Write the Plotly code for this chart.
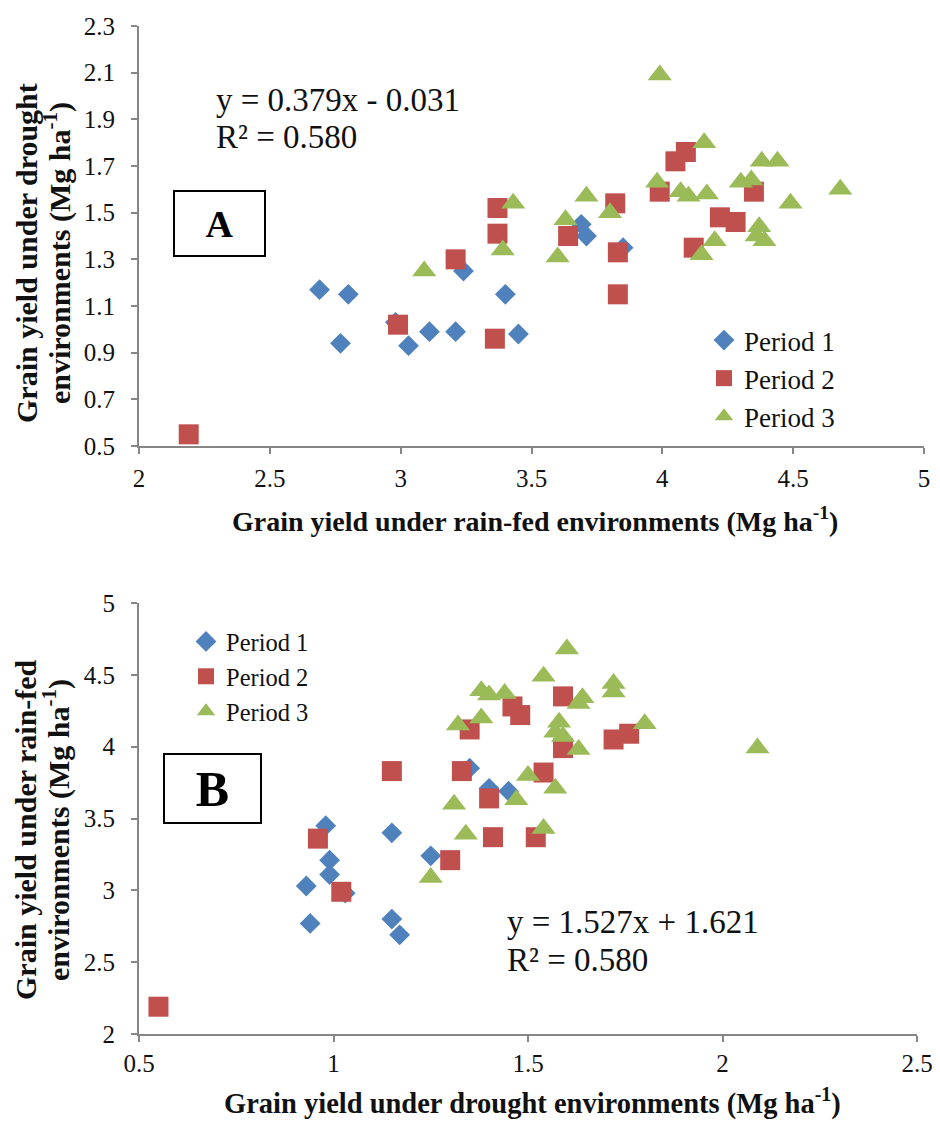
import plotly.graph_objects as go

# ---------------- data (Mg ha-1) ----------------
p1_rainfed = [2.69, 2.80, 2.77, 2.98, 3.03, 3.11, 3.21, 3.24, 3.40, 3.45, 3.69, 3.71, 3.85]
p1_drought = [1.17, 1.15, 0.94, 1.03, 0.93, 0.99, 0.99, 1.25, 1.15, 0.98, 1.45, 1.40, 1.35]

p2_rainfed = [2.19, 2.99, 3.21, 3.36, 3.37, 3.37, 3.64, 3.82, 3.83, 3.83, 3.99, 4.05, 4.09,
              4.12, 4.22, 4.28, 4.35]
p2_drought = [0.55, 1.02, 1.30, 0.96, 1.41, 1.52, 1.40, 1.54, 1.33, 1.15, 1.59, 1.72, 1.76,
              1.35, 1.48, 1.46, 1.59]

p3_rainfed = [3.09, 3.43, 3.39, 3.60, 3.63, 3.71, 3.80, 3.99, 3.98, 4.07, 4.10, 4.16, 4.17,
              4.20, 4.15, 4.30, 4.34, 4.38, 4.44, 4.37, 4.36, 4.39, 4.49, 4.68]
p3_drought = [1.25, 1.54, 1.34, 1.31, 1.47, 1.57, 1.50, 2.09, 1.63, 1.59, 1.57, 1.80, 1.58,
              1.38, 1.32, 1.63, 1.64, 1.72, 1.72, 1.44, 1.40, 1.38, 1.54, 1.60]

series_names = ["Period 1", "Period 2", "Period 3"]
eq_a = ["y = 0.379x - 0.031", "R² = 0.580"]
eq_b = ["y = 1.527x + 1.621", "R² = 0.580"]
title_rain = "Grain yield under rain-fed environments (Mg ha<sup>-1</sup>)"
title_drought = "Grain yield under drought environments (Mg ha<sup>-1</sup>)"
ytitle_a = ["Grain yield under drought", "environments (Mg ha<sup>-1</sup>)"]
ytitle_b = ["Grain yield under rain-fed", "environments (Mg ha<sup>-1</sup>)"]

# ---------------- style ----------------
# the page body adds an 8 px margin, so the figure is 8 px smaller each way
OFF = 8
W, H = 940 - OFF, 1128 - OFF
FONT = "Liberation Serif, Times New Roman, serif"
colors = ["#4F81BD", "#C0504D", "#9BBB59"]
symbols = ["diamond", "square", "triangle-up"]
sizes = [16, 20, 21]
AXC = "#868686"


def px(x):
    return (x - OFF) / W


def py(y):
    return 1 - (y - OFF) / H


series = [(p1_rainfed, p1_drought), (p2_rainfed, p2_drought), (p3_rainfed, p3_drought)]

fig = go.Figure()
for i, (rf, dr) in enumerate(series):
    mk = dict(symbol=symbols[i], color=colors[i], size=sizes[i], line=dict(width=0))
    fig.add_trace(go.Scatter(x=rf, y=dr, mode="markers", name=series_names[i], marker=mk,
                             xaxis="x", yaxis="y", legend="legend"))
for i, (rf, dr) in enumerate(series):
    mk = dict(symbol=symbols[i], color=colors[i], size=sizes[i], line=dict(width=0))
    fig.add_trace(go.Scatter(x=dr, y=rf, mode="markers", name=series_names[i], marker=mk,
                             xaxis="x2", yaxis="y2", legend="legend2"))

axis_common = dict(showgrid=False, zeroline=False, showline=True, linecolor=AXC, linewidth=2,
                   ticks="outside", ticklen=6, tickwidth=2, tickcolor=AXC, automargin=False,
                   tickfont=dict(family=FONT, size=25, color="#111"))

fig.update_layout(
    width=W, height=H, margin=dict(l=0, r=0, t=0, b=0, pad=0, autoexpand=False),
    paper_bgcolor="white", plot_bgcolor="white",
    font=dict(family=FONT, color="#111"),
    xaxis=dict(domain=[px(139), px(924)], range=[2, 5], dtick=0.5, tick0=2, anchor="y",
               ticklabelstandoff=3, **axis_common),
    yaxis=dict(domain=[py(446), py(26)], range=[0.5, 2.3], dtick=0.2, tick0=0.5,
               tickformat=".1f", anchor="x", ticklabelstandoff=11, **axis_common),
    xaxis2=dict(domain=[px(139), px(917)], range=[0.5, 2.5], dtick=0.5, tick0=0.5, anchor="y2",
                ticklabelstandoff=0, **axis_common),
    yaxis2=dict(domain=[py(1034), py(603)], range=[2, 5], dtick=0.5, tick0=2, anchor="x2",
                ticklabelstandoff=11, **axis_common),
    legend=dict(x=px(704), y=py(316), xanchor="left", yanchor="top",
                font=dict(family=FONT, size=27, color="#111"), bgcolor="rgba(0,0,0,0)",
                tracegroupgap=0),
    legend2=dict(x=px(186), y=py(619), xanchor="left", yanchor="top",
                 font=dict(family=FONT, size=24.5, color="#111"), bgcolor="rgba(0,0,0,0)",
                 tracegroupgap=0),
)

ann = []


def text(x, y, s, size, bold=False, angle=0, xanchor="center"):
    ann.append(dict(x=px(x), y=py(y), xref="paper", yref="paper", text=("<b>%s</b>" % s) if bold else s,
                    showarrow=False, textangle=angle, xanchor=xanchor, yanchor="middle",
                    font=dict(family=FONT, size=size, color="#111")))


# axis titles
text(535, 519, title_rain, 28, bold=True)
text(532, 1101, title_drought, 28.5, bold=True)
text(26, 253, ytitle_a[0], 30, bold=True, angle=-90)
text(57, 253, ytitle_a[1], 30, bold=True, angle=-90)
text(26, 830, ytitle_b[0], 30, bold=True, angle=-90)
text(57, 830, ytitle_b[1], 30, bold=True, angle=-90)

# equations
text(214, 100, eq_a[0], 33, xanchor="left")
text(214, 137, eq_a[1], 33, xanchor="left")
text(505, 922, eq_b[0], 33, xanchor="left")
text(505, 960, eq_b[1], 33, xanchor="left")

# panel labels in boxes
ann.append(dict(x=px(219.5), y=py(223.5), xref="paper", yref="paper", text="<b>A</b>",
                showarrow=False, xanchor="center", yanchor="middle", width=89, height=63,
                bordercolor="black", borderwidth=2, borderpad=0, align="center", valign="middle",
                font=dict(family=FONT, size=38, color="black")))
ann.append(dict(x=px(212.5), y=py(788.5), xref="paper", yref="paper", text="<b>B</b>",
                showarrow=False, xanchor="center", yanchor="middle", width=95, height=67,
                bordercolor="black", borderwidth=2, borderpad=0, align="center", valign="middle",
                font=dict(family=FONT, size=50, color="black")))

fig.update_layout(annotations=ann)
fig.write_html("out.html")
